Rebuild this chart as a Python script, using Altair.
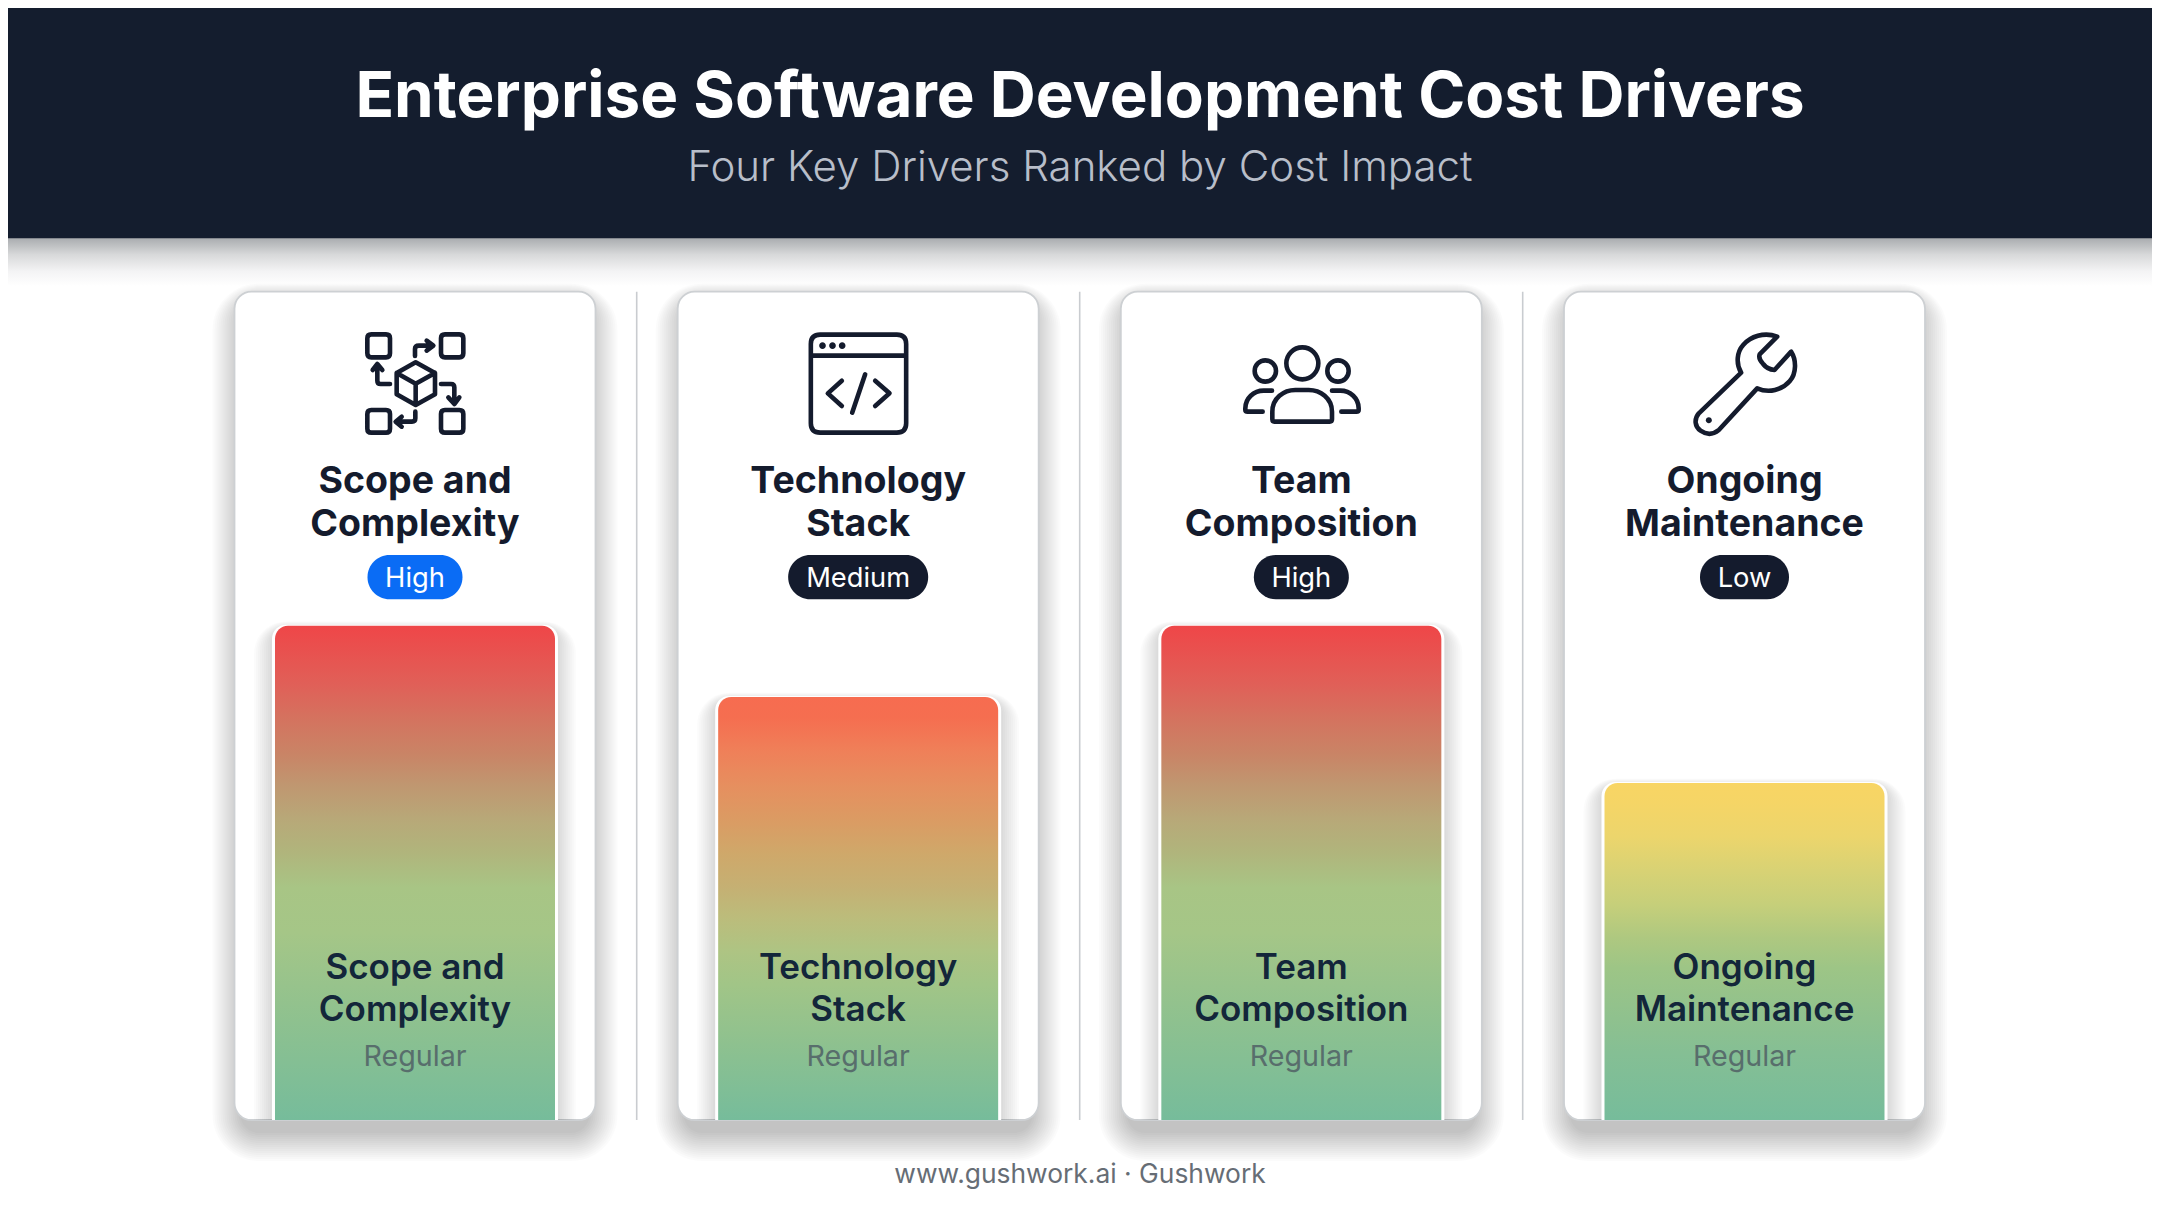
import re
import altair as alt
import pandas as pd

# ---- chart values -------------------------------------------------------
drivers = ["Scope and Complexity", "Technology Stack", "Team Composition", "Ongoing Maintenance"]
line_1 = ["Scope and", "Technology", "Team", "Ongoing"]
line_2 = ["Complexity", "Stack", "Composition", "Maintenance"]
impact = ["High", "Medium", "High", "Low"]
cost_index = [100, 85.6, 100, 68.2]
bar_note = ["Regular", "Regular", "Regular", "Regular"]

TITLE = "Enterprise Software Development Cost Drivers"
SUBTITLE = "Four Key Drivers Ranked by Cost Impact"
FOOTER = "www.gushwork.ai · Gushwork"

# ---- styling ------------------------------------------------------------
W, H = 2144, 1190
M = 8  # page margin: page pixel minus M = plot pixel
INK = "#141b2d"
FONT = "Inter"
SHADOW = "#1e1e1e"
pill_width = {"High": 95, "Medium": 140, "Low": 89}
pill_fill = {drivers[0]: "#0a6cf5", drivers[1]: INK, drivers[2]: INK, drivers[3]: INK}
red_stops = [(0, "#ef4648"), (0.12, "#e06058"), (0.19, "#d4735f"), (0.26, "#c98466"), (0.32, "#c09670"),
             (0.39, "#b8a878"), (0.46, "#b0b57c"), (0.53, "#a8c585"), (0.62, "#a5c687"), (0.8, "#8ec18f"), (1, "#76bc9b")]
top_stops = {
    drivers[0]: red_stops,
    drivers[1]: [(0, "#f76c50"), (0.05, "#f56e50"), (0.13, "#ef8059"), (0.21, "#e68f5f"), (0.29, "#db9b63"),
                 (0.37, "#cfa86a"), (0.45, "#c5b073"), (0.52, "#bcbc7b"), (0.6, "#aec483"), (0.68, "#a1c587"),
                 (0.82, "#8ec18f"), (1, "#76bc9b")],
    drivers[2]: red_stops,
    drivers[3]: [(0, "#f8d564"), (0.06, "#f5d566"), (0.16, "#ecd56c"), (0.26, "#d8d274"), (0.36, "#c6cf7a"),
                 (0.46, "#aec880"), (0.55, "#9dc586"), (0.7, "#8fc18e"), (0.8, "#85bf94"), (1, "#76bc9b")],
}


def grad(stops):
    return alt.LinearGradient(
        gradient="linear",
        stops=[alt.GradientStop(offset=o, color=c) for o, c in stops],
        x1=0, x2=0, y1=0, y2=1,
    )


df = pd.DataFrame(
    dict(driver=drivers, line1=line_1, line2=line_2, impact=impact, cost=cost_index, note=bar_note)
)

x_enc = alt.X(
    "driver:N",
    axis=None,
    scale=alt.Scale(type="band", domain=drivers, range=[275 - M, 1884.5 - M],
                    paddingInner=1 - 280 / 443.17, paddingOuter=0),
)
y_scale = alt.Scale(domain=[0, 100], range=[1120 - M, 625.7 - M])
y_enc = alt.Y("cost:Q", axis=None, scale=y_scale)
y_zero = alt.Y2(datum=0)

base = alt.Chart(df)
one = alt.Chart(pd.DataFrame({"k": [0]}))
layers = []

# page shadow of header
layers.append(
    one.mark_rect(
        color=grad([(0, "#a9acaf"), (0.35, "#d8d9da"), (0.7, "#f4f4f5"), (1, "#ffffff")])
    ).encode(x=alt.value(0), x2=alt.value(W), y=alt.value(238 - M), y2=alt.value(286 - M))
)
# header band
layers.append(
    one.mark_rect(color="#141d2e").encode(
        x=alt.value(0), x2=alt.value(W), y=alt.value(0), y2=alt.value(238.3 - M)
    )
)

# card shadows: stacked translucent rounded bars
CARD_T, CARD_B = 291.7 - M, 1120 - M
for g in range(30, 0, -2):
    layers.append(
        base.mark_bar(width=361 + 2 * g - 16, cornerRadius=16 + g, color=SHADOW, opacity=0.014).encode(
            x=x_enc, y=alt.value(CARD_T + 10 - g * 0.6), y2=alt.value(CARD_B + 11 + g)
        )
    )
# separators
for sx in [636.7, 1079.7, 1522.7]:
    layers.append(
        one.mark_rule(color="#c9ccd0", strokeWidth=1.6).encode(
            x=alt.value(sx - M), y=alt.value(CARD_T), y2=alt.value(CARD_B)
        )
    )
# cards
layers.append(
    base.mark_bar(width=361, cornerRadius=17, color="#ffffff", stroke="#cdd0d3", strokeWidth=1.8).encode(
        x=x_enc, y=alt.value(CARD_T), y2=alt.value(CARD_B)
    )
)


def shift(path, cx, cy):
    """Re-centre an icon path; the numbers come in x,y pairs."""
    n = [0]

    def rep(m):
        v = float(m.group()) - (cx if n[0] % 2 == 0 else cy)
        n[0] += 1
        return f"{v:.1f}"

    return re.sub(r"-?\d+\.?\d*", rep, path)


def rrect(x0, y0, x1, y1, r):
    return (
        f"M{x0 + r} {y0}L{x1 - r} {y0}Q{x1} {y0} {x1} {y0 + r}L{x1} {y1 - r}Q{x1} {y1} {x1 - r} {y1}"
        f"L{x0 + r} {y1}Q{x0} {y1} {x0} {y1 - r}L{x0} {y0 + r}Q{x0} {y0} {x0 + r} {y0}Z"
    )


def circ(x, y, r):
    k = 0.5523 * r
    return (
        f"M{x + r} {y}C{x + r} {y + k} {x + k} {y + r} {x} {y + r}C{x - k} {y + r} {x - r} {y + k} {x - r} {y}"
        f"C{x - r} {y - k} {x - k} {y - r} {x} {y - r}C{x + k} {y - r} {x + r} {y - k} {x + r} {y}Z"
    )


icon_paths = {
    drivers[0]: shift(
        rrect(442, 163, 510, 232, 12) + rrect(663, 163, 730, 232, 12)
        + rrect(442, 390, 510, 458, 12) + rrect(663, 390, 730, 458, 12)
        + "M587 247L645 279L645 343L587 375L530 343L530 279Z"
        + "M530 279L587 311L645 279M587 311L587 375"
        + "M585 228L585 207Q585 197 597 197L635 197M620 182L640 197L620 212"
        + "M510 312L482 312Q472 312 472 302L472 258M458 270L472 252L487 270"
        + "M663 312L693 312Q703 312 703 322L703 368M685 352L703 372L718 352"
        + "M586 395L586 415Q586 425 576 425L532 425M545 410L527 425L545 440",
        585, 311,
    ),
    drivers[1]: shift(
        rrect(452, 164, 738, 458, 28) + "M452 227L738 227"
        + "M545 302L503 340L545 378M645 302L688 340L645 378M615 283L576 398",
        594, 311,
    ),
    drivers[2]: shift(
        circ(606, 250, 48) + circ(495, 273, 32) + circ(713, 273, 32)
        + "M522 425L688 425Q695 425 695 418L695 395C695 355 660 330 625 330L585 330C550 330 516 355 516 395L516 418Q516 425 522 425Z"
        + "M515 332L490 332C460 332 435 355 435 385L435 390Q435 395 442 395L487 395"
        + "M695 332L720 332C750 332 775 355 775 385L775 390Q775 395 768 395L723 395",
        603, 311,
    ),
    drivers[3]: shift(
        "M680 170C640 155 600 170 578 195C560 215 555 250 572 278L445 400C430 418 433 440 450 452C470 466 490 462 505 450"
        "L620 325C655 340 695 330 718 303C738 280 738 240 722 215L672 270Q650 268 638 252Q622 235 628 222Z",
        582, 311,
    ),
}
icon_dots = {
    drivers[1]: shift(circ(487, 197, 10) + circ(517, 197, 10) + circ(546, 197, 10), 594, 311),
    drivers[3]: shift(circ(475, 421, 9), 582, 311),
}

for d in drivers:
    sub = base.transform_filter(alt.datum.driver == d)
    # icon
    layers.append(
        sub.mark_point(
            shape=icon_paths[d], size=4 / 9, filled=False, opacity=1, stroke=INK, strokeWidth=4.6,
            strokeCap="round", strokeJoin="round",
        ).encode(x=x_enc, y=alt.value(383.67 - M))
    )
    if d in icon_dots:
        layers.append(
            sub.mark_point(shape=icon_dots[d], size=4 / 9, filled=True, opacity=1, fill=INK, strokeWidth=0).encode(
                x=x_enc, y=alt.value(383.67 - M)
            )
        )
    # impact pill
    lvl = df.loc[df.driver == d, "impact"].iloc[0]
    layers.append(
        sub.mark_bar(width=pill_width[lvl], cornerRadius=22, color=pill_fill[d]).encode(
            x=x_enc, y=alt.value(555 - M), y2=alt.value(599.3 - M)
        )
    )
    # bar shadow
    for g in range(18, 0, -2):
        layers.append(
            sub.mark_bar(
                width=286 + 2 * g, cornerRadiusTopLeft=14 + g, cornerRadiusTopRight=14 + g,
                color=SHADOW, opacity=0.014, yOffset=3 - g * 0.4,
            ).encode(x=x_enc, y=y_enc, y2=y_zero)
        )
    # white edge
    layers.append(
        sub.mark_bar(width=286, cornerRadiusTopLeft=14, cornerRadiusTopRight=14, color="#ffffff", yOffset=-1).encode(
            x=x_enc, y=y_enc, y2=y_zero
        )
    )
    # the bar
    layers.append(
        sub.mark_bar(width=280, cornerRadiusTopLeft=13, cornerRadiusTopRight=13, color=grad(top_stops[d])).encode(
            x=x_enc, y=y_enc, y2=y_zero
        )
    )


def tx(field, y, size, weight, color):
    return base.mark_text(
        font=FONT, fontSize=size, fontWeight=weight, color=color, align="center", baseline="alphabetic"
    ).encode(x=x_enc, y=alt.value(y - M), text=f"{field}:N")


layers += [
    tx("line1", 492.7, 37.5, 700, INK),
    tx("line2", 536, 37.5, 700, INK),
    tx("impact", 587.3, 27.3, 400, "#ffffff"),
    tx("line1", 979, 35, 600, "#13263a"),
    tx("line2", 1020.7, 35, 600, "#13263a"),
    tx("note", 1066, 28.7, 400, "#586e6c"),
]


def page_text(s, y, size, weight, color):
    return one.mark_text(
        text=s, font=FONT, fontSize=size, fontWeight=weight, color=color, align="center", baseline="alphabetic"
    ).encode(x=alt.value(1080 - M), y=alt.value(y - M))


layers += [
    page_text(TITLE, 117, 63.7, 700, "#ffffff"),
    page_text(SUBTITLE, 180.8, 42, 300, "#b8bec9"),
    page_text(FOOTER, 1182.5, 26.4, 400, "#666d75"),
]

chart = (
    alt.layer(*layers)
    .properties(width=W, height=H, padding=0, background="#ffffff")
    .configure_view(stroke=None)
)
chart.save("out.html", embed_options={"renderer": "svg", "actions": False})
